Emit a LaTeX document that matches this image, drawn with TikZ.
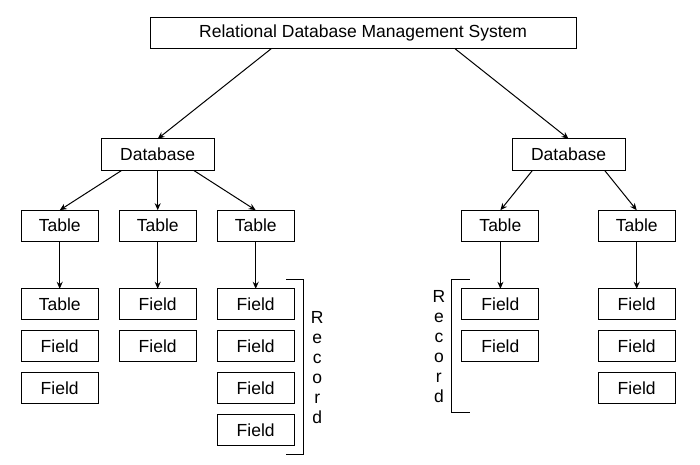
\documentclass[tikz,border=0pt]{standalone}
\usepackage{fontspec}
\setmainfont{Liberation Sans}
\usetikzlibrary{matrix}
\usetikzlibrary{positioning,calc,arrows.meta}

\begin{document}
\begin{tikzpicture}[x=1pt, y=1pt, line width=1pt, font=\fontsize{17.5}{20}\selectfont,
    box/.style={draw, minimum width=77pt, minimum height=31pt, inner sep=2pt, outer sep=0pt},
    link/.style={-{Stealth[length=7pt,width=6pt]}}]
    \useasboundingbox (0,0) rectangle (700,-464);
    \matrix (M)[matrix of nodes, nodes={box, anchor=center}, matrix anchor=north west,
      inner sep=0pt, outer sep=0pt, column sep=20pt, row sep=10pt] at (20.7,-209.7)
    {
      Table & Table & Table &[146.7pt] Table &[38.3pt] Table \\[36.6pt]
      Table & Field & Field & Field & Field \\
      Field & Field & Field & Field & Field \\
      Field &       & Field &       & Field \\
            &       & Field &       &       \\
    };
    % databases and the system on top
    \node[box, minimum width=113pt, minimum height=31.7pt, above=39.7pt of M-1-2] (db1) {Database};
    \coordinate (db2pos) at ($(M-1-4.north)!0.5!(M-1-5.north)$);
    \node[box, minimum width=113pt, minimum height=31.7pt, above=39.7pt of db2pos] (db2) {Database};
    \coordinate (toppos) at ($(db1.north)!0.5!(db2.north)$);
    \node[box, minimum width=426pt, above=90pt of toppos] (rdbms) {Relational Database Management System};

    \draw[link] ($(rdbms.south west)!0.284!(rdbms.south east)$) -- (db1.north);
    \draw[link] ($(rdbms.south west)!0.716!(rdbms.south east)$) -- (db2.north);
    \draw[link] ($(db1.south west)!0.18!(db1.south east)$) -- (M-1-1.north);
    \draw[link] (db1.south) -- (M-1-2.north);
    \draw[link] ($(db1.south west)!0.82!(db1.south east)$) -- (M-1-3.north);
    \draw[link] ($(db2.south west)!0.18!(db2.south east)$) -- (M-1-4.north);
    \draw[link] ($(db2.south west)!0.82!(db2.south east)$) -- (M-1-5.north);
    \foreach \c in {1,...,5}
      \draw[link] (M-1-\c.south) -- (M-2-\c.north);

    % record brackets
    \coordinate (recL1) at ($(M-2-3.north east)+(-8,9)$);
    \coordinate (recL2) at ($(M-5-3.south east)+(-8,-9)$);
    \draw (recL1) -- ++(17,0) |- (recL2);
    \node[inner sep=0pt, align=center] (recL) at ($(recL1)!0.5!(recL2)+(31,0)$) {R\\e\\c\\o\\r\\d};
    \coordinate (recR1) at ($(M-2-4.north west)+(8,9)$);
    \coordinate (recRb) at (M-2-4.west |- M-4-5.south);
    \coordinate (recR2) at ($(recRb)+(8,-9)$);
    \draw (recR1) -- ++(-18,0) |- (recR2);
    \node[inner sep=0pt, align=center] (recR) at ($(recR1)!0.5!(recR2)+(-31,0)$) {R\\e\\c\\o\\r\\d};
\end{tikzpicture}
\end{document}
